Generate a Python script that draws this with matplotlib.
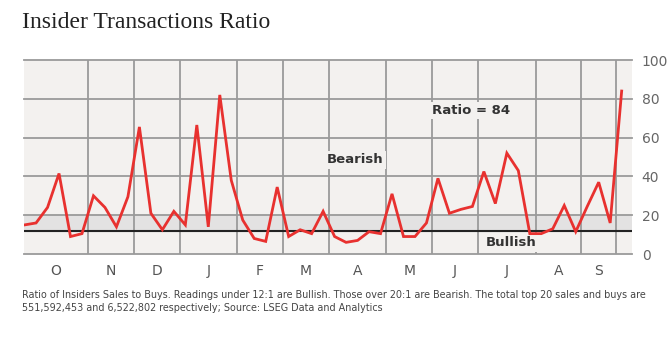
import matplotlib.pyplot as plt

# Weekly insider sales/buys ratio, Oct through Sep
ratio = [15, 16, 24, 41.5, 9, 10.5, 30, 24, 14, 29.5, 65.5, 21, 12.5, 22, 15,
         66.5, 14, 82, 38, 17.5, 8, 6.5, 34.5, 9, 12.5, 10.5, 22, 9, 6, 7,
         11.5, 10.5, 31, 9, 9, 16, 39, 21, 23, 24.5, 42.5, 26, 52, 43, 10.5,
         10.5, 13, 25, 11.5, 24.5, 37, 16, 84]
weeks = list(range(len(ratio)))

# Month boundaries (in weeks) and month labels
month_edges = [0, 5.5, 9.5, 13.5, 18.5, 22.5, 26.5, 31.5, 35.5, 39.5, 44.5, 48.5, 51.5]
month_labels = ['O', 'N', 'D', 'J', 'F', 'M', 'A', 'M', 'J', 'J', 'A', 'S']
y_ticks = [0, 20, 40, 60, 80, 100]

bullish_level = 12
bearish_level = 20

bg = '#f3f1ef'
band = '#e3e2e2'
grid_col = '#9a9a9a'
red = '#e8312f'

fig = plt.figure(figsize=(6.7, 3.63), dpi=100)
ax = fig.add_axes([24 / 670, 1 - 254 / 363, 608 / 670, 194 / 363])

ax.set_facecolor(bg)
ax.axhspan(bullish_level, bearish_level, color=band, zorder=0)

# Grid lines
for v in y_ticks:
    ax.axhline(v, color=grid_col, lw=1.3, zorder=1, clip_on=False)
for e in month_edges[1:]:
    ax.axvline(e, color=grid_col, lw=1.3, zorder=1)

# Bullish threshold line
ax.axhline(bullish_level, color='#222222', lw=1.5, zorder=2)

# Ratio line
ax.plot(weeks, ratio, color=red, lw=2.0, zorder=4, solid_joinstyle='miter')

ax.set_xlim(-0.05, 52.9)
ax.set_ylim(0, 100)

for s in ax.spines.values():
    s.set_visible(False)

# Right-side value labels
ax.yaxis.tick_right()
ax.set_yticks(y_ticks)
ax.set_yticklabels([str(v) for v in y_ticks], fontsize=10, color='#666666')
ax.tick_params(axis='y', length=0, pad=7)

# Month labels centred between boundaries
mids = [(month_edges[i] + month_edges[i + 1]) / 2 for i in range(len(month_labels))]
ax.set_xticks(mids)
ax.set_xticklabels(month_labels, fontsize=10, color='#555555')
ax.tick_params(axis='x', length=0, pad=7)

# Annotations
box = dict(facecolor=bg, edgecolor='none', pad=1.5)
ax.text(28.8, 48.5, 'Bearish', fontsize=9.5, fontweight='bold', color='#333333',
        ha='center', va='center', zorder=3, bbox=box)
ax.text(38.9, 74, 'Ratio = 84', fontsize=9.5, fontweight='bold', color='#333333',
        ha='center', va='center', zorder=3, bbox=box)
ax.text(42.4, 5.7, 'Bullish', fontsize=9.5, fontweight='bold', color='#333333',
        ha='center', va='center', zorder=3, bbox=box)

# Title
fig.text(22 / 670, 1 - 23 / 363, 'Insider Transactions Ratio', fontsize=17,
         family='Liberation Serif', color='#222222', ha='left', va='center')

# Footnote
note = ('Ratio of Insiders Sales to Buys. Readings under 12:1 are Bullish. Those over 20:1 are Bearish. '
        'The total top 20 sales and buys are\n'
        '551,592,453 and 6,522,802 respectively; Source: LSEG Data and Analytics')
fig.text(22 / 670, 1 - 290 / 363, note, fontsize=6.9, color='#444444',
         family=['Liberation Sans Narrow', 'DejaVu Sans'], ha='left', va='top',
         linespacing=1.35)

fig.savefig('out.png', dpi=100, facecolor='white')
